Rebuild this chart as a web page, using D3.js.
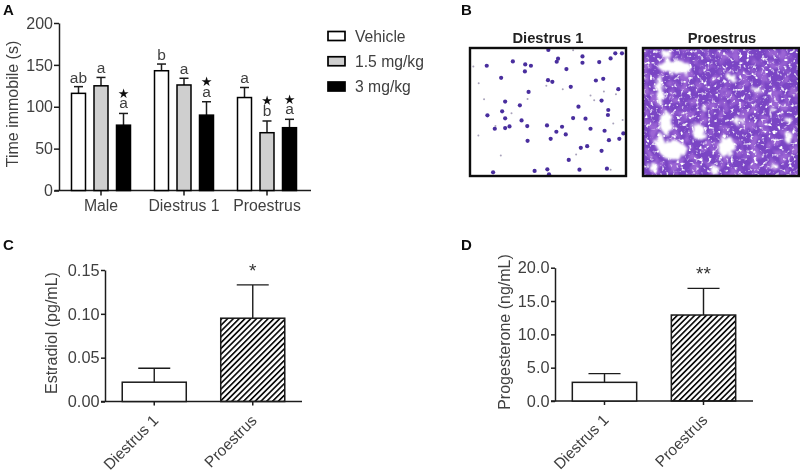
<!DOCTYPE html>
<html><head><meta charset="utf-8">
<script src="https://cdn.jsdelivr.net/npm/d3@7"></script>
<style>
html,body{margin:0;padding:0;background:#fff}
svg{display:block;font-family:"Liberation Sans",Arial,sans-serif}
</style></head><body>
<svg id="c" width="800" height="475"></svg>
<script>
// Panel A
const groupsA = ["Male","Diestrus 1","Proestrus"];
const seriesA = ["Vehicle","1.5 mg/kg","3 mg/kg"];
const meansA = [[116,125,78],[143,126,90],[111,69,75]];
const errTopsA = [[124,135,92],[151,134,106],[123,83,85]];
const lettersA = [["ab","a","a"],["b","a","a"],["a","b","a"]];
const starsA = [[0,0,1],[0,0,1],[0,1,1]];
const ticksA = [0,50,100,150,200];
const fillsA = ["#ffffff","#cfcfcf","#000000"];
// Panels C and D
const groupsCD = ["Diestrus 1","Proestrus"];
const meansC = [0.022,0.095], errTopsC = [0.038,0.133], ticksC = [0,0.05,0.10,0.15];
const meansD = [2.8,12.9], errTopsD = [4.1,16.9], ticksD = [0,5,10,15,20];
// Panel B: cell positions (image units)
const cellsLarge = [[82,198],[160,185],[196,215],[214,198],[197,194],[125,234],[265,241],[278,246],[295,177],[291,186],[320,208],[368,170],[368,189],[418,187],[452,176],[466,161],[486,161],[408,242],[430,237],[207,276],[137,305],[181,316],[128,334],[84,346],[137,355],[186,361],[203,378],[150,379],[137,384],[106,386],[262,376],[290,395],[307,380],[318,403],[273,416],[204,422],[340,354],[377,356],[356,320],[333,261],[392,386],[434,392],[447,420],[478,416],[490,400],[382,438],[363,443],[425,452],[327,479],[263,507],[225,512],[101,516],[359,508],[441,505],[268,522],[266,151],[475,268],[425,302],[445,330],[444,345]];
const cellsSmall = [[58,250],[74,298],[204,297],[309,268],[260,258],[392,287],[403,301],[432,275],[468,283],[108,378],[156,340],[57,406],[349,463],[452,508],[42,200],[340,152],[124,466],[460,370],[488,360]];
const gaps = [[640,200,42,22],[672,205,22,18],[600,270,12,44],[620,370,16,36],[640,450,40,28],[600,425,12,28],[715,395,20,23],[800,440,26,32],[835,362,16,10],[985,412,13,16],[815,232,12,10],[735,325,9,7],[985,360,13,8],[620,162,14,10],[765,510,13,13],[580,500,13,13],[940,330,9,7],[890,270,9,7],[945,500,11,7]];

const ink="#1c1c1c", txt="#3f3f3f";
const svg=d3.select("#c");
const defs=svg.append("defs");
defs.append("pattern").attr("id","hatch").attr("patternUnits","userSpaceOnUse")
  .attr("width",4.1).attr("height",4.1).attr("patternTransform","rotate(45)")
  .append("rect").attr("width",1.7).attr("height",4.1).attr("fill","#111");
defs.append("filter").attr("id","soft").attr("x","-2%").attr("y","-2%").attr("width","104%").attr("height","104%")
  .append("feGaussianBlur").attr("stdDeviation",0.4);
const sp=defs.append("filter").attr("id","speck").attr("x",0).attr("y",0).attr("width","100%").attr("height","100%");
sp.append("feTurbulence").attr("type","fractalNoise").attr("baseFrequency",0.26).attr("numOctaves",2).attr("seed",4);
sp.append("feColorMatrix").attr("values","0 0 0 0 1  0 0 0 0 1  0 0 0 0 1  5 0 0 0 -2.85");
sp.append("feGaussianBlur").attr("stdDeviation",0.6);
const dk=defs.append("filter").attr("id","dark").attr("x",0).attr("y",0).attr("width","100%").attr("height","100%");
dk.append("feTurbulence").attr("type","fractalNoise").attr("baseFrequency",0.1).attr("numOctaves",2).attr("seed",9);
dk.append("feColorMatrix").attr("values","0 0 0 0 0.33  0 0 0 0 0.13  0 0 0 0 0.66  4 0 0 0 -1.8");
const ro=defs.append("filter").attr("id","rough").attr("x","-30%").attr("y","-30%").attr("width","160%").attr("height","160%");
ro.append("feTurbulence").attr("type","fractalNoise").attr("baseFrequency",0.2).attr("numOctaves",2).attr("seed",2).attr("result","n");
ro.append("feDisplacementMap").attr("in","SourceGraphic").attr("in2","n").attr("scale",9);
ro.append("feGaussianBlur").attr("stdDeviation",0.9);
["b1","b2"].forEach((id,i)=>defs.append("clipPath").attr("id",id).append("rect")
  .attr("x",i?643:470).attr("y",48).attr("width",156).attr("height",128));

const root=svg.append("g").attr("filter","url(#soft)");
function styleAxis(g,size){
  g.selectAll("path,line").attr("stroke",ink).attr("stroke-width",1.5);
  g.selectAll("text").attr("fill",txt).attr("font-size",size).attr("font-family","Liberation Sans");
}
function panelLabel(t,x,y){root.append("text").text(t).attr("x",x).attr("y",y).attr("font-weight","bold").attr("font-size",15).attr("fill","#111");}
function yTitle(t,x,yc){root.append("text").text(t).attr("transform",`translate(${x},${yc}) rotate(-90)`).attr("text-anchor","middle").attr("font-size",16).attr("fill",txt);}

// ---------- A
const yA=d3.scaleLinear().domain([0,200]).range([190.5,23]);
const xA=d3.scaleBand().domain(groupsA).range([59.5,308.5]);
const xInner=d3.scaleBand().domain(seriesA).range([-29.5,29.5]).paddingInner(0.378);
const gA=root.append("g");
gA.append("g").attr("transform","translate(59,0)").call(d3.axisLeft(yA).tickValues(ticksA).tickSize(5).tickPadding(1).tickSizeOuter(0)).call(styleAxis,16);
const axA=gA.append("g").attr("transform","translate(0,190.5)").call(d3.axisBottom(xA).tickSize(5).tickPadding(4).tickSizeOuter(0)).call(styleAxis,15.8);
axA.select("path").attr("d","M54.5,0H311");
groupsA.forEach((g,i)=>{
  const c=xA(g)+xA.bandwidth()/2;
  seriesA.forEach((s,j)=>{
    const x=c+xInner(s), w=xInner.bandwidth(), m=x+w/2;
    gA.append("line").attr("x1",m).attr("x2",m).attr("y1",yA(meansA[i][j])).attr("y2",yA(errTopsA[i][j])).attr("stroke",ink).attr("stroke-width",1.5);
    gA.append("line").attr("x1",m-4.5).attr("x2",m+4.5).attr("y1",yA(errTopsA[i][j])).attr("y2",yA(errTopsA[i][j])).attr("stroke",ink).attr("stroke-width",1.5);
    gA.append("rect").attr("x",x).attr("y",yA(meansA[i][j])).attr("width",w).attr("height",yA(0)-yA(meansA[i][j]))
      .attr("fill",fillsA[j]).attr("stroke","#000").attr("stroke-width",1.5);
    const by=yA(errTopsA[i][j])-(starsA[i][j]?5:4);
    gA.append("text").text(lettersA[i][j]).attr("x",m).attr("y",by).attr("text-anchor","middle").attr("font-size",15.5).attr("fill",txt);
    if(starsA[i][j]) gA.append("text").text("★").attr("x",m).attr("y",by-10.5).attr("text-anchor","middle").attr("font-family","DejaVu Sans").attr("font-size",13).attr("fill","#111");
  });
});
yTitle("Time immobile (s)",18,104);
panelLabel("A",3,15);
const legend=root.append("g");
const yLegend=d3.scalePoint().domain(seriesA).range([36,86.5]);
seriesA.forEach((s,j)=>{
  legend.append("rect").attr("x",328).attr("y",yLegend(s)-4.5).attr("width",17).attr("height",9).attr("fill",fillsA[j]).attr("stroke","#000").attr("stroke-width",1.7);
  legend.append("text").text(s).attr("x",355).attr("y",yLegend(s)+5.5).attr("font-size",15.7).attr("fill",txt);
});

// ---------- B
panelLabel("B",461,15);
const bx=[d3.scaleLinear().domain([32,498]).range([470,626]),d3.scaleLinear().domain([550,1016]).range([643,799])];
const by=d3.scaleLinear().domain([145,527]).range([48,176]);
["Diestrus 1","Proestrus"].forEach((t,i)=>root.append("text").text(t).attr("x",i?722:548).attr("y",43).attr("text-anchor","middle").attr("font-weight","bold").attr("font-size",14.7).attr("fill","#222"));
const b1=root.append("g").attr("clip-path","url(#b1)");
b1.append("rect").attr("x",470).attr("y",48).attr("width",156).attr("height",128).attr("fill","#fff");
b1.selectAll(".s").data(cellsSmall).join("circle").attr("cx",d=>bx[0](d[0])).attr("cy",d=>by(d[1])).attr("r",1).attr("fill","#a9a3bb");
b1.selectAll(".l").data(cellsLarge).join("circle").attr("cx",d=>bx[0](d[0])).attr("cy",d=>by(d[1])).attr("r",2.1).attr("fill","#4a2f9e");
const b2=root.append("g").attr("clip-path","url(#b2)");
const imgRect=g=>g.attr("x",643).attr("y",48).attr("width",156).attr("height",128);
b2.append("rect").call(imgRect).attr("fill","#7a45c4");
b2.append("rect").call(imgRect).attr("filter","url(#dark)");
b2.append("rect").call(imgRect).attr("filter","url(#speck)");
b2.append("g").attr("filter","url(#rough)").selectAll("ellipse").data(gaps).join("ellipse")
  .attr("cx",d=>bx[1](d[0])).attr("cy",d=>by(d[1])).attr("rx",d=>d[2]/3).attr("ry",d=>d[3]/3).attr("fill","#fff");
[470,643].forEach(x=>root.append("rect").attr("x",x).attr("y",48).attr("width",156).attr("height",128).attr("fill","none").attr("stroke","#111").attr("stroke-width",2.4));

// ---------- C, D
function simple(o){
  const y=d3.scaleLinear().domain(o.domain).range([o.y0,o.y1]);
  const x=d3.scaleBand().domain(groupsCD).range([o.x0,o.x1]).paddingInner(0.35).paddingOuter(0.175);
  const g=root.append("g");
  g.append("g").attr("transform",`translate(${o.x0},0)`).call(d3.axisLeft(y).tickValues(o.ticks).tickFormat(d3.format(o.fmt)).tickSize(4).tickPadding(1.5).tickSizeOuter(0)).call(styleAxis,16.3);
  const ax=g.append("g").attr("transform",`translate(0,${o.y0})`).call(d3.axisBottom(x).tickSize(4).tickSizeOuter(0)).call(styleAxis,15.5);
  ax.select("path").attr("d",`M${o.x0-4},0H${o.x1}`);
  ax.selectAll("text").attr("text-anchor","end").attr("dy",0).attr("y",0).attr("x",0)
    .attr("transform","translate(5,20) rotate(-45)");
  groupsCD.forEach((k,i)=>{
    const l=x(k), w=x.bandwidth(), m=l+w/2;
    g.append("line").attr("x1",m).attr("x2",m).attr("y1",y(o.means[i])).attr("y2",y(o.tops[i])).attr("stroke",ink).attr("stroke-width",1.4);
    g.append("line").attr("x1",m-16).attr("x2",m+16).attr("y1",y(o.tops[i])).attr("y2",y(o.tops[i])).attr("stroke",ink).attr("stroke-width",1.4);
    g.append("rect").attr("x",l).attr("y",y(o.means[i])).attr("width",w).attr("height",y(0)-y(o.means[i]))
      .attr("fill",i?"url(#hatch)":"#fff").attr("stroke","#1a1a1a").attr("stroke-width",1.5);
  });
  g.append("text").text(o.star).attr("x",x("Proestrus")+x.bandwidth()/2).attr("y",o.starY).attr("text-anchor","middle").attr("font-size",19).attr("fill","#333");
}
simple({domain:[0,0.15],y0:401.5,y1:270,x0:105,x1:302,ticks:ticksC,fmt:".2f",means:meansC,tops:errTopsC,star:"*",starY:277});
simple({domain:[0,20],y0:401,y1:267.7,x0:555,x1:753,ticks:ticksD,fmt:".1f",means:meansD,tops:errTopsD,star:"**",starY:280});
yTitle("Estradiol (pg/mL)",57,333);
yTitle("Progesterone (ng/mL)",510,332);
panelLabel("C",3,250);
panelLabel("D",461,250);
</script>
</body></html>
